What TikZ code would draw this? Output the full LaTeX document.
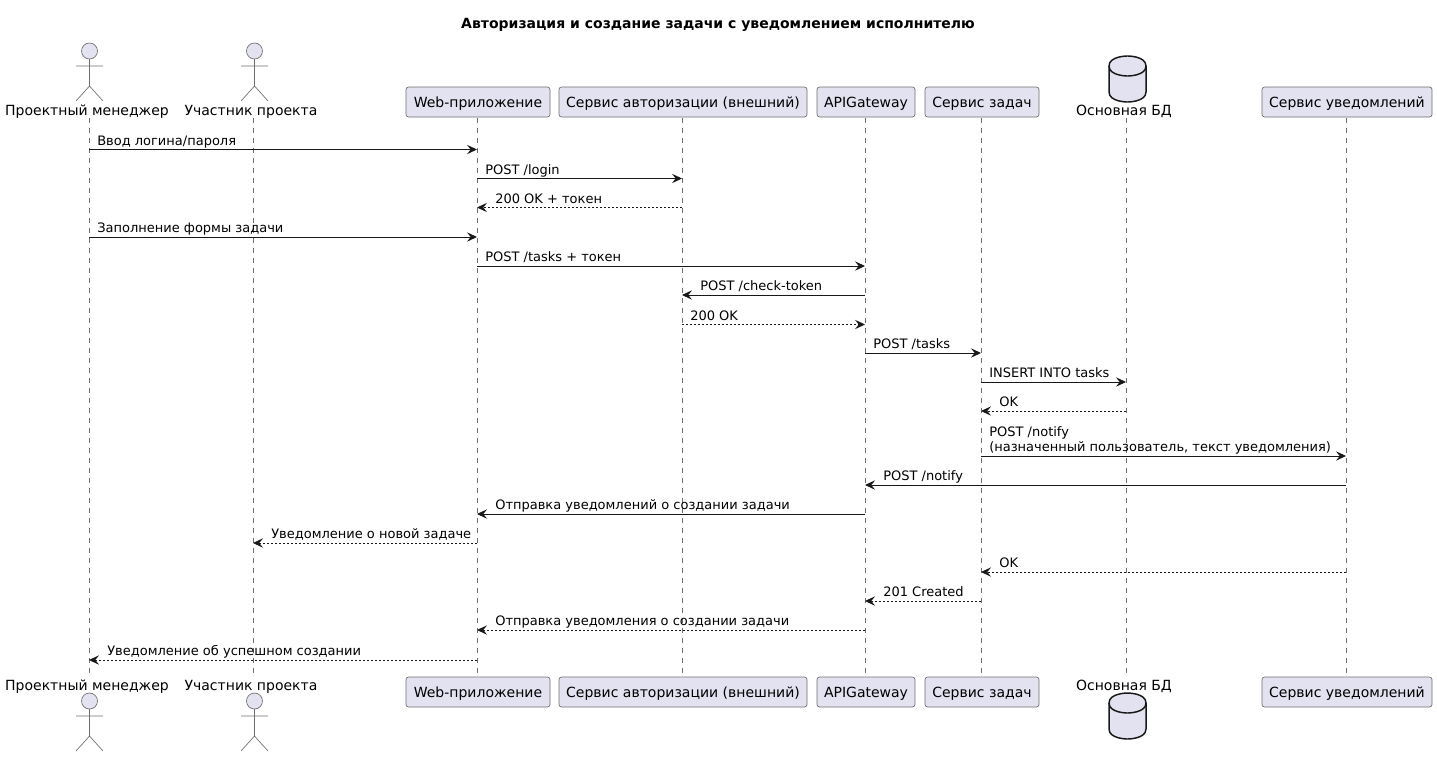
\documentclass[tikz,border=0pt]{standalone}
\usepackage{fontspec}
\setmainfont{DejaVu Sans}
\usetikzlibrary{arrows.meta}
\definecolor{C0}{HTML}{E2E2F0}
\definecolor{C1}{HTML}{181818}
\definecolor{C2}{HTML}{6E6E6E}
\tikzset{
  lifeline/.style={draw=C2,line width=.4pt,dash pattern=on 3.75pt off 3.75pt},
  msgline/.style={draw=C1,line width=.75pt,-{Stealth[length=7.5pt,width=7pt,inset=2.8pt]}},
  msgback/.style={msgline,dash pattern=on 1.5pt off 1.5pt},
  msgtext/.style={anchor=base west,inner sep=0pt,font=\fontsize{9.75}{11.25}\selectfont,text=black,align=left},
  partbox/.style={draw=C2,fill=C0,line width=.5pt,rounded corners=1.9pt,minimum height=22.5pt,inner sep=0pt,
    text height=9pt,text depth=1.5pt,font=\fontsize{10.5}{12}\selectfont},
  partname/.style={inner sep=0pt,anchor=base,font=\fontsize{10.5}{12}\selectfont},
  actorpart/.style={draw=C2,line width=.5pt},
  dbpart/.style={draw=C1,fill=C0,line width=1.1pt}
}
% message going right: label sits next to the source
\newcommand{\msgright}[5][msgline]{
  \draw[#1] (#2 |- 0,#4) -- (#3 |- 0,#4);
  \node[msgtext] (lbl#4) at ([xshift=6pt,yshift=3.1pt]#2 |- 0,#4) {#5};
}
% message going left: label sits next to the target
\newcommand{\msgleft}[5][msgline]{
  \draw[#1] (#2 |- 0,#4) -- (#3 |- 0,#4);
  \node[msgtext] (lbl#4) at ([xshift=13.5pt,yshift=3.1pt]#3 |- 0,#4) {#5};
}
% stick figure: x, head y
\newcommand{\actorfig}[2]{
  \draw[actorpart,fill=C0] (#1,#2) circle (6pt);
  \draw[actorpart] (#1,#2+8) -- (#1,#2+35) (#1-13.5,#2+15) -- (#1+13.5,#2+15)
    (#1-13.5,#2+50) -- (#1,#2+35) -- (#1+13.5,#2+50);
}
% database drum: x, top y
\newcommand{\dbfig}[2]{
  \draw[dbpart] (#1-18.5,#2+10) .. controls (#1-18.5,#2) and (#1,#2) .. (#1,#2)
    .. controls (#1,#2) and (#1+18.5,#2) .. (#1+18.5,#2+10) -- (#1+18.5,#2+36)
    .. controls (#1+18.5,#2+46) and (#1,#2+46) .. (#1,#2+46)
    .. controls (#1,#2+46) and (#1-18.5,#2+46) .. (#1-18.5,#2+36) -- cycle;
  \draw[dbpart,fill=none] (#1-18.5,#2+10) .. controls (#1-18.5,#2+20) and (#1,#2+20) .. (#1,#2+20)
    .. controls (#1,#2+20) and (#1+18.5,#2+20) .. (#1+18.5,#2+10);
}

\begin{document}
\begin{tikzpicture}[x=.75pt,y=-.75pt]
  \useasboundingbox (0,0) rectangle (1437,757);

  % Title.
  \node[inner sep=0pt,anchor=base,font=\fontsize{10.5}{12}\selectfont\bfseries] (title) at (718,28)
    {Авторизация и создание задачи с уведомлением исполнителю};

  % Lifelines.
  \foreach \part/\xpos in {pm/89,member/253,web/477,auth/682,gateway/865,tasks/981,db/1126,notify/1346} {
    \coordinate (\part) at (\xpos,118);
    \coordinate (\part end) at (\xpos,677);
    \draw[lifeline] (\part) -- (\part end);
  }

  % Participants, top and bottom.
  \foreach \part/\xpos/\wid/\txt in {
    web/478/144/Web-приложение,
    auth/683/248/Сервис авторизации (внешний),
    gateway/866/98/APIGateway,
    tasks/982/114/Сервис задач,
    notify/1347/170/Сервис уведомлений} {
    \node[partbox,minimum width=\wid*.75pt] (\part top) at (\xpos,102) {\txt};
    \node[partbox,minimum width=\wid*.75pt] (\part bot) at (\xpos,692) {\txt};
  }

  % Actors.
  \actorfig{89.5}{51}
  \actorfig{254.5}{51}
  \actorfig{89.5}{701}
  \actorfig{254.5}{701}
  \node[partname] (pmtop) at (87,115) {Проектный менеджер};
  \node[partname] (membertop) at (251,115) {Участник проекта};
  \node[partname] (pmbot) at (87,690) {Проектный менеджер};
  \node[partname] (memberbot) at (251,690) {Участник проекта};

  % Database.
  \dbfig{1127.5}{56}
  \dbfig{1127.5}{693}
  \node[partname] (dbtop) at (1124,115) {Основная БД};
  \node[partname] (dbbot) at (1124,690) {Основная БД};

  % Messages.
  \msgright{pm}{web}{149.5}{Ввод логина/пароля}
  \msgright{web}{auth}{178.5}{POST /login}
  \msgleft[msgback]{auth}{web}{207.5}{200 OK + токен}
  \msgright{pm}{web}{237}{Заполнение формы задачи}
  \msgright{web}{gateway}{266}{POST /tasks + токен}
  \msgleft{gateway}{auth}{295}{POST /check-token}
  \msgright[msgback]{auth}{gateway}{324.5}{200 OK}
  \msgright{gateway}{tasks}{353}{POST /tasks}
  \msgright{tasks}{db}{382}{INSERT INTO tasks}
  \msgleft[msgback]{db}{tasks}{411}{OK}
  \draw[msgline] (tasks |- 0,456) -- (notify |- 0,456);
  \node[msgtext,anchor=south west] (lbl456) at ([xshift=6pt,yshift=.8pt]tasks |- 0,456)
    {POST /notify\\(назначенный пользователь, текст уведомления)};
  \msgleft{notify}{gateway}{485}{POST /notify}
  \msgleft{gateway}{web}{514}{Отправка уведомлений о создании задачи}
  \msgleft[msgback]{web}{member}{543}{Уведомление о новой задаче}
  \msgleft[msgback]{notify}{tasks}{572}{OK}
  \msgleft[msgback]{tasks}{gateway}{601}{201 Created}
  \msgleft[msgback]{gateway}{web}{630}{Отправка уведомления о создании задачи}
  \msgleft[msgback]{web}{pm}{660}{Уведомление об успешном создании}

\end{tikzpicture}
\end{document}
